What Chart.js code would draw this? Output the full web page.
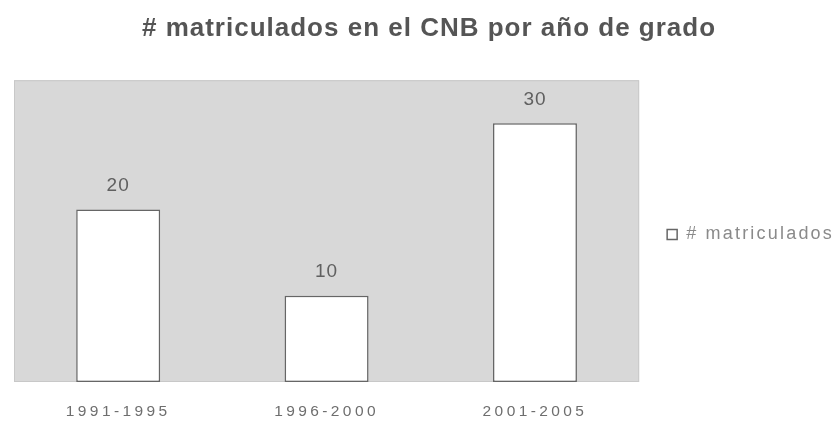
<!DOCTYPE html>
<html>
<head>
<meta charset="utf-8">
<script src="https://cdn.jsdelivr.net/npm/chart.js@4/dist/chart.umd.min.js"></script>
<style>
html,body{margin:0;padding:0;background:#ffffff;}
#wrap{width:838px;height:423px;}
</style>
</head>
<body>
<div id="wrap"><canvas id="c" width="838" height="423"></canvas></div>
<script>
// ---- data ----
const categories = ['1991-1995', '1996-2000', '2001-2005'];
const matriculados = [20, 10, 30];
const seriesName = '# matriculados';
const chartTitle = '# matriculados en el CNB por año de grado';
const yMin = 0;
const yMax = 35;

const FONT = '"Liberation Sans", Arial, Helvetica, sans-serif';
const SPACING = { title: '1px', legend: '2.2px', x: '3.4px', labels: '1px' };
const LEGEND_SHIFT_Y = 24;

// letter spacing per layout box (title, legend, x axis)
const spacingPlugin = {
  id: 'spacing',
  beforeLayout(chart) {
    chart.boxes.forEach(b => {
      if (b.__wrapped) return;
      let sp = null;
      const isLegend = b === chart.legend;
      if (b === chart.titleBlock) sp = SPACING.title;
      else if (isLegend) sp = SPACING.legend;
      else if (b.id === 'x') sp = SPACING.x;
      if (!sp) return;
      b.__wrapped = true;
      ['fit', 'update', 'draw'].forEach(m => {
        const orig = b[m];
        if (typeof orig !== 'function') return;
        b[m] = function (...args) {
          const ctx = chart.ctx;
          const prev = ctx.letterSpacing;
          ctx.letterSpacing = sp;
          const shift = isLegend && m === 'draw';
          if (shift) { ctx.save(); ctx.translate(0, LEGEND_SHIFT_Y); }
          try { return orig.apply(this, args); }
          finally {
            if (shift) ctx.restore();
            ctx.letterSpacing = prev || '0px';
          }
        };
      });
    });
  }
};

const plotBgPlugin = {
  id: 'plotBg',
  beforeDraw(chart) {
    const { ctx, chartArea: a } = chart;
    ctx.save();
    ctx.fillStyle = '#d8d8d8';
    ctx.fillRect(a.left, a.top, a.right - a.left, a.bottom - a.top);
    ctx.strokeStyle = '#c8c8c8';
    ctx.lineWidth = 1;
    ctx.strokeRect(a.left + 0.5, a.top + 0.5, a.right - a.left - 1, a.bottom - a.top - 1);
    ctx.restore();
  }
};

const valueLabelPlugin = {
  id: 'valueLabels',
  afterDatasetsDraw(chart) {
    const ctx = chart.ctx;
    const ds = chart.data.datasets[0];
    const meta = chart.getDatasetMeta(0);
    ctx.save();
    ctx.letterSpacing = SPACING.labels;
    ctx.font = '19px ' + FONT;
    ctx.fillStyle = '#606060';
    ctx.textAlign = 'center';
    ctx.textBaseline = 'middle';
    meta.data.forEach((bar, i) => {
      ctx.fillText(String(ds.data[i]), bar.x, bar.y - 24);
    });
    ctx.restore();
  }
};

new Chart(document.getElementById('c'), {
  type: 'bar',
  data: {
    labels: categories,
    datasets: [{
      label: seriesName,
      data: matriculados,
      backgroundColor: '#ffffff',
      borderColor: '#666666',
      borderWidth: 1.5,
      borderSkipped: false,
      categoryPercentage: 1.0,
      barPercentage: 0.403
    }]
  },
  options: {
    responsive: false,
    animation: false,
    devicePixelRatio: 1,
    layout: { padding: { left: 14, right: -6, top: 0, bottom: 2 } },
    plugins: {
      title: {
        display: true,
        text: chartTitle,
        color: '#555555',
        font: { family: FONT, size: 26, weight: 'bold', lineHeight: 1.2 },
        padding: { top: 13, bottom: 36 }
      },
      legend: {
        position: 'right',
        align: 'center',
        labels: {
          boxWidth: 10,
          boxHeight: 10,
          padding: 3,
          color: '#8a8a8a',
          font: { family: FONT, size: 18 }
        }
      },
      tooltip: { enabled: false }
    },
    scales: {
      x: {
        grid: { display: false, drawTicks: false },
        border: { display: false },
        ticks: { color: '#6e6e6e', font: { family: FONT, size: 15.5 }, padding: 20, maxRotation: 0 },
        afterFit(scale) { scale.height = 39; }
      },
      y: {
        position: 'right',
        min: yMin,
        max: yMax,
        grid: { display: false, drawTicks: false },
        border: { display: false },
        ticks: { display: false },
        afterFit(scale) { scale.width = 25; }
      }
    }
  },
  plugins: [spacingPlugin, plotBgPlugin, valueLabelPlugin]
});
</script>
</body>
</html>
